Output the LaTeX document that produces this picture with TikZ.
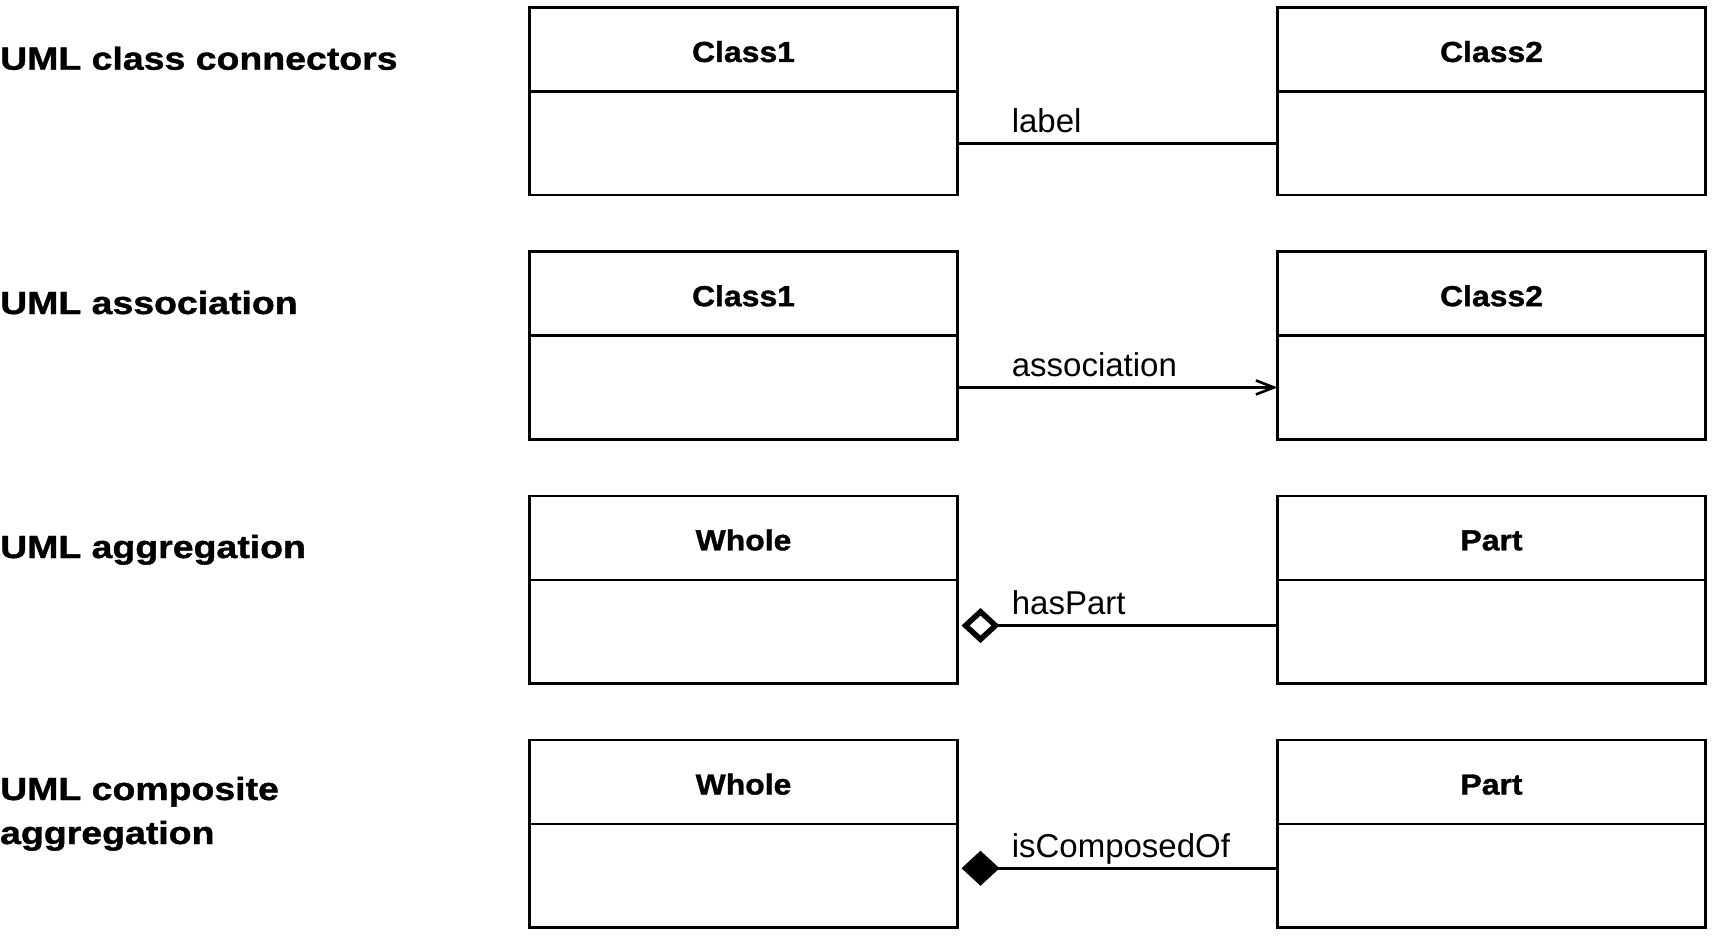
\documentclass[tikz,border=0pt]{standalone}
\usepackage{fontspec}
\setmainfont{Liberation Sans}
\newfontfamily\titlefont[FakeStretch=1.17,FakeBold=1.2]{Liberation Sans Bold}
\newfontfamily\classfont[FakeStretch=1.1,FakeBold=1.2]{Liberation Sans Bold}
\usetikzlibrary{arrows.meta,shapes.geometric}
\begin{document}
\begin{tikzpicture}[x=1pt,y=-1pt,
  title/.style={anchor=base west,inner sep=0pt,font=\titlefont\fontsize{32pt}{32pt}\selectfont},
  head/.style={draw,line width=2.6pt,fill=white,minimum width=428pt,minimum height=84pt,inner sep=0pt,outer sep=0pt,
    anchor=north west,text height=25pt,text depth=0pt,font=\classfont\fontsize{29pt}{29pt}\selectfont},
  body/.style={draw,line width=2.6pt,fill=white,minimum width=428pt,minimum height=103.5pt,inner sep=0pt,outer sep=0pt,anchor=north west},
  conn/.style={line width=2.6pt},
  lbl/.style={pos=0,anchor=base west,inner sep=0pt,xshift=53pt,yshift=11pt,font=\fontsize{33pt}{33pt}\selectfont}
]
\useasboundingbox (0,0) rectangle (1716,936);
\fill[white] (0,0) rectangle (1716,936);

% titles
\node[title] (t1) at (0,69.7) {UML class connectors};
\node[title] (t2) at (0,314) {UML association};
\node[title] (t3) at (0,558) {UML aggregation};
\node[title] (t4a) at (0,800) {UML composite};
\node[title] (t4b) at (0,844) {aggregation};

% row 1
\node[head] (a1h) at (529.5,7.5) {Class1};
\node[body] (a1b) at (a1h.south west) {};
\node[head] (b1h) at (1277.5,7.5) {Class2};
\node[body] (b1b) at (b1h.south west) {};
\draw[conn] (a1b.east) -- node[lbl] {label} (b1b.west);

% row 2
\node[head] (a2h) at (529.5,251.7) {Class1};
\node[body] (a2b) at (a2h.south west) {};
\node[head] (b2h) at (1277.5,251.7) {Class2};
\node[body] (b2b) at (b2h.south west) {};
\draw[conn,-{Straight Barb[length=18pt,width=14pt,line width=2.6pt]}] (a2b.east) -- node[lbl] {association} (b2b.west);

% row 3
\node[head] (a3h) at (529.5,495.8) {Whole};
\node[body] (a3b) at (a3h.south west) {};
\node[head] (b3h) at (1277.5,495.8) {Part};
\node[body] (b3b) at (b3h.south west) {};
\draw[conn,{Diamond[open,length=38pt,width=35pt,line width=5.5pt]}-,shorten <=4pt] ([yshift=6pt]a3b.east) -- node[lbl] {hasPart} ([yshift=6pt]b3b.west);

% row 4
\node[head] (a4h) at (529.5,740) {Whole};
\node[body] (a4b) at (a4h.south west) {};
\node[head] (b4h) at (1277.5,740) {Part};
\node[body] (b4b) at (b4h.south west) {};
\draw[conn,{Diamond[length=38pt,width=35pt]}-,shorten <=4pt] ([yshift=7.5pt]a4b.east) -- node[lbl] {isComposedOf} ([yshift=7.5pt]b4b.west);
\end{tikzpicture}
\end{document}
